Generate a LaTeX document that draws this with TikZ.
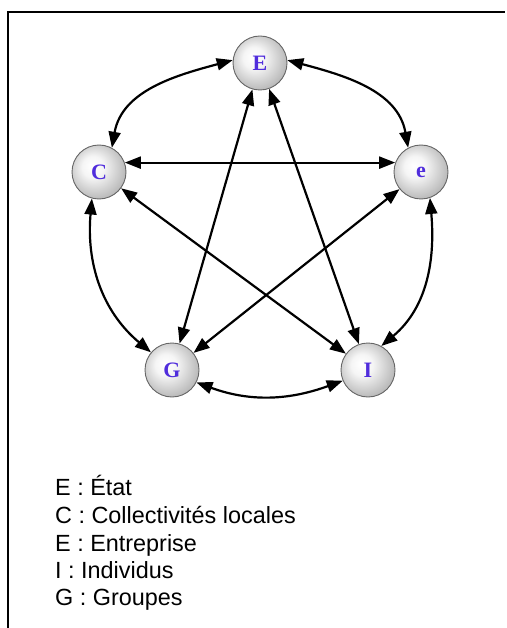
\documentclass[tikz,border=0pt]{standalone}
\usepackage{fontspec}
\setmainfont{Liberation Sans}
\newfontfamily\nodefont{Liberation Serif}
\usetikzlibrary{arrows.meta}
\definecolor{letterblue}{RGB}{80,45,220}
\pgfdeclareradialshading{nodeball}{\pgfpoint{-7bp}{6bp}}{color(0bp)=(white); color(10bp)=(white!96!black); color(28bp)=(gray!55); color(36bp)=(gray!75); color(50bp)=(gray!75)}
\begin{document}
\begin{tikzpicture}[x=1pt,y=1pt,
  entity/.style={circle, minimum size=54pt, inner sep=0pt, draw=gray!80!black, line width=0.9pt, shade, shading=nodeball, font=\nodefont\bfseries\fontsize{22}{22}\selectfont, text=letterblue},
  link/.style={line width=2.2pt, {Triangle[length=16pt,width=12pt]}-{Triangle[length=16pt,width=12pt]}},
  legend/.style={anchor=base west, inner sep=0pt, font=\fontsize{23.4}{27.5}\selectfont},
  frame/.style={line width=1.8pt}]
\useasboundingbox (0,0) rectangle (506,-628);
\coordinate (fb) at (8,-628);
\coordinate (ftl) at (8,-12);
\coordinate (ftr) at (505,-12);
\draw[frame] (fb) -- (ftl) -- (ftr);

\node[entity] (E) at (260,-63) {E};
\node[entity] (C) at (99,-172) {C};
\node[entity] (e) at (421,-172) {e};
\node[entity] (G) at (172,-370) {G};
\node[entity] (I) at (368,-370) {I};

\draw[link] (E.174) to[out=195,in=80] (C.62);
\draw[link] (E.6) to[out=-15,in=100] (e.118);
\draw[link] (C.20) -- (e.160);
\draw[link] (E) -- (G);
\draw[link] (E) -- (I);
\draw[link] (C) -- (I);
\draw[link] (e) -- (G);
\draw[link] (C.255) to[out=265,in=140] (G.140);
\draw[link] (e.289) to[out=275,in=40] (I.61);
\draw[link] (G.-27) to[out=-20,in=200] (I.203);

\node[legend] (l1) at (55,-495) {E : État};
\node[legend] (l2) at (55,-523) {C : Collectivités locales};
\node[legend] (l3) at (55,-551) {E : Entreprise};
\node[legend] (l4) at (55,-578) {I : Individus};
\node[legend] (l5) at (55,-605) {G : Groupes};
\end{tikzpicture}
\end{document}
